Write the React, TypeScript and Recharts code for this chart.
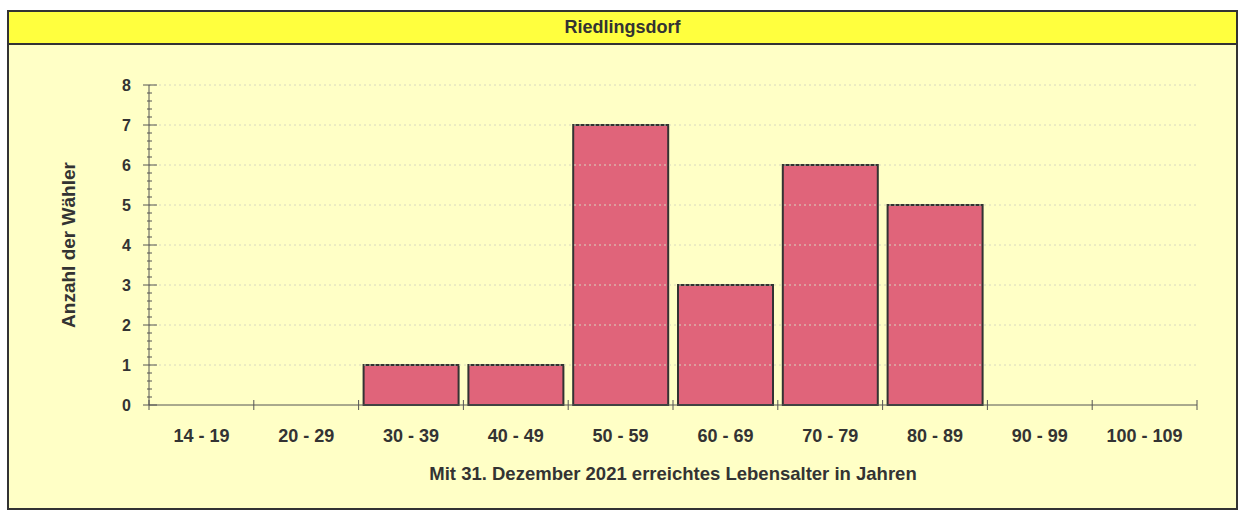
import { BarChart, Bar, XAxis, YAxis, ReferenceLine } from 'recharts'

const ageGroups = ['14 - 19', '20 - 29', '30 - 39', '40 - 49', '50 - 59', '60 - 69', '70 - 79', '80 - 89', '90 - 99', '100 - 109']
const voters = [0, 0, 1, 1, 7, 3, 6, 5, 0, 0]
const majorTicks = [0, 1, 2, 3, 4, 5, 6, 7, 8]

const data = ageGroups.map((label, i) => ({ label, value: voters[i] }))
// minor ticks every 0.2
const allTicks = Array.from({ length: 41 }, (_, i) => Math.round(i * 2) / 10)

const FONT = '"Liberation Sans", Arial, sans-serif'
const INK = '#333333'

function XTick(props: any) {
  const { x, y, payload, index, visibleTicksCount } = props
  const off = payload?.offset ?? 0
  return (
    <g>
      <line x1={x - off} x2={x - off} y1={y - 5} y2={y + 5} stroke="#555" />
      {index === visibleTicksCount - 1 && <line x1={x + off} x2={x + off} y1={y - 5} y2={y + 5} stroke="#555" />}
      <text x={x} y={y + 37} textAnchor="middle" fontSize={18} fontWeight="bold" fill={INK} fontFamily={FONT}>
        {payload.value}
      </text>
    </g>
  )
}

function YTick(props: any) {
  const { x, y, payload } = props
  const v = payload.value
  const major = Math.abs(v - Math.round(v)) < 1e-6
  if (!major) return <line x1={x - 2} x2={x + 3} y1={y} y2={y} stroke="#555" />
  return (
    <g>
      <line x1={x - 6} x2={x + 8} y1={y} y2={y} stroke="#555" />
      <text x={x - 18} y={y} dy="0.36em" textAnchor="end" fontSize={16} fontWeight="bold" fill={INK} fontFamily={FONT}>
        {Math.round(v)}
      </text>
    </g>
  )
}

export default function App() {
  return (
    <div style={{ position: 'absolute', left: 0, top: 0, width: 1238, height: 512, fontFamily: FONT }}>
      <div style={{ position: 'absolute', left: 7, top: 10, width: 1227, height: 496, border: `2px solid ${INK}`, background: '#FFFFC6' }}>
        <div style={{ height: 31, background: '#FFFF3E', borderBottom: `2px solid ${INK}`, textAlign: 'center', fontSize: 18, fontWeight: 'bold', color: INK, lineHeight: '31px' }}>
          Riedlingsdorf
        </div>
      </div>
      <div style={{ position: 'absolute', left: 0, top: 0 }}>
        <BarChart width={1238} height={512} data={data} margin={{ top: 85, right: 41, left: 49, bottom: 45 }} barCategoryGap={5}>
          <XAxis dataKey="label" type="category" height={62} tickSize={0} tickMargin={0} tickLine={false} interval={0}
            axisLine={{ stroke: '#555' }} tick={<XTick />}
            label={{ value: 'Mit 31. Dezember 2021 erreichtes Lebensalter in Jahren', position: 'bottom', offset: 0, fontSize: 18.5, fontWeight: 'bold', fill: INK, fontFamily: FONT }} />
          <YAxis type="number" domain={[0, 8]} ticks={allTicks} interval={0} width={100} tickSize={0} tickMargin={0} tickLine={false}
            axisLine={{ stroke: '#555' }} tick={<YTick />}
            label={{ value: 'Anzahl der Wähler', angle: -90, position: 'insideLeft', offset: 19, fontSize: 19, fontWeight: 'bold', fill: INK, fontFamily: FONT, style: { textAnchor: 'middle' } }} />
          {majorTicks.slice(1).map(v => (
            <ReferenceLine key={v} y={v} stroke="#D8D8C0" strokeDasharray="2 3" />
          ))}
          <Bar dataKey="value" fill="#E0647A" stroke={INK} strokeWidth={2} isAnimationActive={false} />
        </BarChart>
      </div>
    </div>
  )
}
